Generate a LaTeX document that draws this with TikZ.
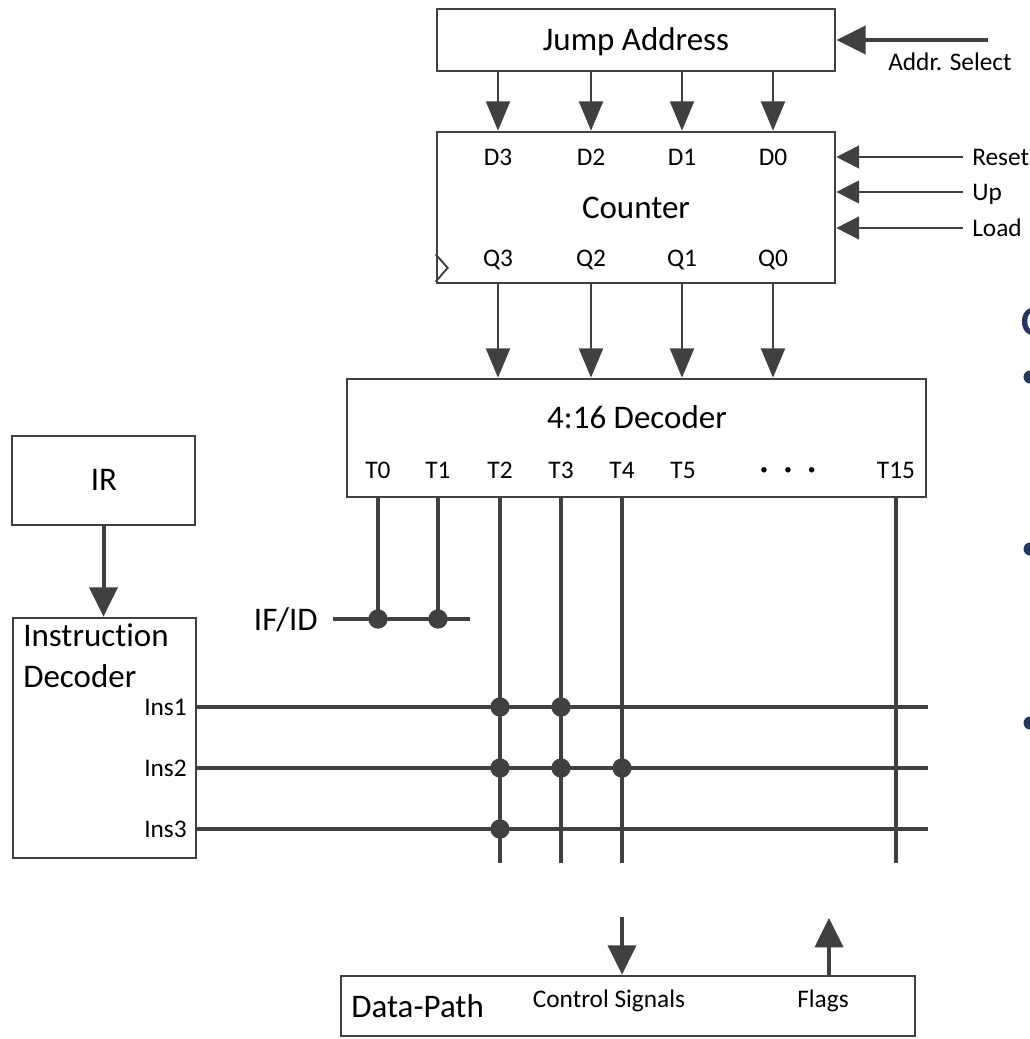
\documentclass[tikz,border=0pt]{standalone}
\usepackage{fontspec}
\setmainfont{Carlito}[Ligatures=NoCommon]
\usetikzlibrary{arrows.meta,fit,calc}
\definecolor{ln}{HTML}{404040}
\definecolor{slideblue}{HTML}{1F3864}
\newcommand\mainsz{\fontsize{24.75pt}{28pt}\selectfont}
\newcommand\labsz{\fontsize{19pt}{22pt}\selectfont}
\begin{document}
\begin{tikzpicture}[x=0.75pt,y=-0.75pt,
  box/.style={draw=ln, line width=2pt, fill=white, inner sep=0pt},
  txt/.style={inner sep=0pt, anchor=base, font=\mainsz},
  lab/.style={inner sep=0pt, anchor=base, font=\labsz},
  thinarr/.style={draw=ln, line width=1.7pt, -{Triangle[length=22pt,width=18pt]}, color=ln},
  sidearr/.style={draw=ln, line width=1.5pt, -{Triangle[length=17pt,width=17pt]}, color=ln},
  thickarr/.style={draw=ln, line width=3pt, -{Triangle[length=22pt,width=21pt]}, color=ln},
  bus/.style={draw=ln, line width=3pt},
  jdot/.style={circle, fill=ln, inner sep=0pt, minimum size=14.5pt},
  bul/.style={circle, fill=slideblue, inner sep=0pt, minimum size=9.75pt}]
\clip (0,0) rectangle (1030,1039);
\fill[white] (0,0) rectangle (1030,1039);

% column and row coordinates
\coordinate (c3) at (498,0);
\coordinate (c2) at (591,0);
\coordinate (c1) at (682,0);
\coordinate (c0) at (773,0);
\coordinate (t0) at (378,0);
\coordinate (t1) at (438,0);
\coordinate (t2) at (500,0);
\coordinate (t3) at (561,0);
\coordinate (t4) at (622,0);
\coordinate (t15) at (896,0);
\coordinate (ins1) at (0,707);
\coordinate (ins2) at (0,768);
\coordinate (ins3) at (0,829);
\coordinate (busbot) at (0,863);
\coordinate (busright) at (928,0);

% boxes
\node[box, fit={(437,9) (835,71)}] (ja) {};
\node[box, fit={(437,132) (835,283)}] (ctr) {};
\node[box, fit={(347,379) (926,497)}] (dec) {};
\node[box, fit={(12,436) (195,525)}] (ir) {};
\node[box, fit={(13,618) (196,858)}] (idec) {};
\node[box, fit={(341,976) (915,1036)}] (dp) {};

% box texts
\node[txt] (jatxt) at (636,50) {Jump Address};
\node[txt] (ctrtxt) at (636,218) {Counter};
\node[txt] (dectxt) at (637,428) {4:16 Decoder};
\node[txt] (irtxt) at (104,490) {IR};
\node[txt, anchor=base west] (idtxt1) at (23,646) {Instruction};
\node[txt, anchor=base west] (idtxt2) at (23,687) {Decoder};
\node[txt, anchor=base west] (dptxt) at (351,1017) {Data-Path};
\node[lab] (cstxt) at (609,1007) {Control Signals};
\node[lab] (fltxt) at (823,1007) {Flags};

% counter pin labels
\foreach \c/\n in {c3/3,c2/2,c1/1,c0/0}{
  \node[lab] (D\n) at ($(\c)+(0,165)$) {D\n};
  \node[lab] (Q\n) at ($(\c)+(0,266)$) {Q\n};
}
% clock triangle
\draw[draw=ln, line width=1.4pt] ([yshift=22.5pt]ctr.south west) -- ++(12,13.5) -- ([yshift=2pt]ctr.south west);

% decoder outputs labels
\foreach \t/\n in {t0/T0,t1/T1,t2/T2,t3/T3,t4/T4,t15/T15}{
  \node[lab] (l\n) at ($(\t)+(0,478)$) {\n};
}
\node[lab] (lT5) at (683,478) {T5};
\node[lab, font=\bfseries\fontsize{22pt}{22pt}\selectfont] (ldots) at (788,478) {·\hspace{12pt}·\hspace{12pt}·};

% jump address to counter, counter to decoder
\foreach \c in {c3,c2,c1,c0}{
  \draw[thinarr] (ja.south -| \c) -- (ctr.north -| \c);
  \draw[thinarr] (ctr.south -| \c) -- (dec.north -| \c);
}

% side inputs
\coordinate (asel) at (988,40);
\draw[thickarr] (asel) -- (ja.east |- asel);
\node[lab, anchor=base west] (asltxt) at (888,70) {Addr. Select};
\coordinate (rst) at (963,157);
\coordinate (up) at (963,192);
\coordinate (ld) at (963,228);
\draw[sidearr] (rst) -- (ctr.east |- rst);
\draw[sidearr] (up) -- (ctr.east |- up);
\draw[sidearr] (ld) -- (ctr.east |- ld);
\node[lab, anchor=base west] (rsttxt) at (972,165) {Reset};
\node[lab, anchor=base west] (uptxt) at (972,200) {Up};
\node[lab, anchor=base west] (ldtxt) at (972,236) {Load};

% IR to instruction decoder
\draw[thickarr] (ir.south) -- (ir.south |- idec.north);

% IF/ID
\node[txt, anchor=base east] (ifid) at (318,630) {IF/ID};
\coordinate (ifidL) at (333,619);
\coordinate (ifidR) at (470,619);
\draw[bus] (ifidL) -- (ifidR);
\draw[bus] (dec.south -| t0) -- (t0 |- ifidL);
\draw[bus] (dec.south -| t1) -- (t1 |- ifidL);
\node[jdot] (j0) at (t0 |- ifidL) {};
\node[jdot] (j1) at (t1 |- ifidL) {};

% bus verticals
\foreach \t in {t2,t3,t4,t15}{
  \draw[bus] (dec.south -| \t) -- (\t |- busbot);
}
% instruction lines
\foreach \i/\n in {ins1/Ins1,ins2/Ins2,ins3/Ins3}{
  \draw[bus] (idec.east |- \i) -- (busright |- \i);
  \node[lab, anchor=base east] (l\n) at ($(187,8)+(\i)$) {\n};
}
% junctions
\node[jdot] (d21) at (t2 |- ins1) {};
\node[jdot] (d22) at (t2 |- ins2) {};
\node[jdot] (d23) at (t2 |- ins3) {};
\node[jdot] (d31) at (t3 |- ins1) {};
\node[jdot] (d32) at (t3 |- ins2) {};
\node[jdot] (d42) at (t4 |- ins2) {};

% data path arrows
\coordinate (cs) at (622,917);
\coordinate (fl) at (829,918);
\draw[thickarr] (cs) -- (dp.north -| cs);
\draw[thickarr] (dp.north -| fl) -- (fl);

% cropped slide content on the right edge
\node[inner sep=0pt, anchor=base west, text=slideblue, font=\bfseries\fontsize{31.5pt}{32pt}\selectfont] (ctitle) at (1021,335) {C};
\node[bul] (b1) at (1030,377) {};
\node[bul] (b2) at (1030,549) {};
\node[bul] (b3) at (1030,723) {};
\end{tikzpicture}
\end{document}
